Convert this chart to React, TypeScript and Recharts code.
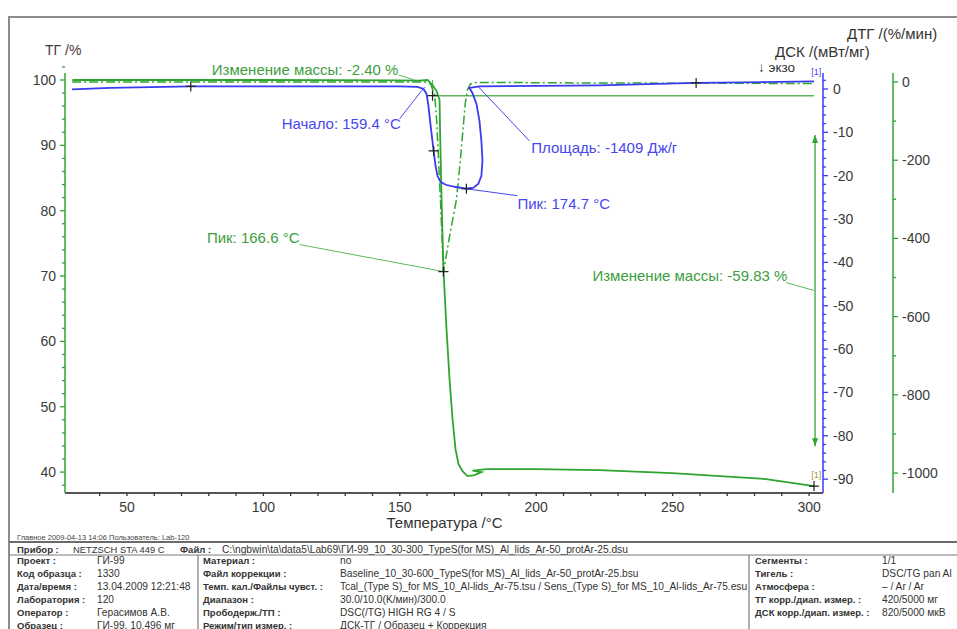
import React from "react";
import { LineChart, Line, XAxis, YAxis, ReferenceLine, ReferenceDot } from "recharts";

const FONT = '"Liberation Sans", Arial, sans-serif';

// ТГ, %
const tgTemp = [30, 100, 150, 157, 160.2, 162.0, 163.5, 164.2, 164.57, 164.75, 165.3, 166.03, 167.13, 168.23, 169.33, 170.42, 171.52, 172.99, 174.82, 177.38, 179.94, 176.65, 181.77, 199.7, 223.13, 249.85, 284.25, 301.82];
const tgMass = [100, 100, 99.95, 99.9, 100, 99.24, 98.3, 97.4, 96.95, 92.37, 81.68, 70.69, 61.83, 54.2, 48.09, 43.51, 41.22, 40.15, 39.39, 39.54, 40.0, 40.23, 40.46, 40.46, 40.31, 39.85, 38.93, 37.86];

// ДСК, мВт/мг
const dscTemp = [29.9, 43.8, 73.4, 113.3, 149.9, 156.5, 158.7, 159.8, 160.5, 161.3, 162.4, 163.1, 163.8, 164.9, 166.8, 170.1, 174.4, 177.0, 178.8, 179.9, 180.3, 179.9, 179.2, 178.1, 176.6, 175.5, 179.2, 223.1, 258.6, 289.0, 301.8];
const dscFlow = [-0.12, 0.23, 0.58, 0.58, 0.58, 0.46, 0, -1.15, -3.91, -8.52, -14.27, -17.73, -20.03, -21.41, -22.1, -22.56, -23.02, -22.79, -21.87, -20.03, -16.57, -11.97, -7.37, -3.45, -0.92, 0.23, 0.58, 0.81, 1.38, 1.61, 1.73];

// ДТГ, %/мин
const dtgTemp = [29.9, 113.3, 159.1, 161.3, 162.8, 163.5, 164.2, 164.9, 165.5, 166.0, 168.2, 170.8, 172.2, 173.3, 174.0, 174.8, 175.9, 177.7, 223.1, 301.8];
const dtgRate = [0, 0, 0, -5, -33, -97, -199, -302, -404, -486, -396, -299, -199, -110, -54, -20, -5, -1, -2.6, -3.8];

const TEMP_LABELS = [50, 100, 150, 200, 250, 300];
const TG_LABELS = [40, 50, 60, 70, 80, 90, 100];
const DSC_LABELS = [0, -10, -20, -30, -40, -50, -60, -70, -80, -90];
const DTG_LABELS = [0, -200, -400, -600, -800, -1000];

const TEMP_TICKS = Array.from({ length: 27 }, (_, i) => 40 + i * 10);
const TG_TICKS = Array.from({ length: 33 }, (_, i) => 38 + i * 2);
const DSC_TICKS = Array.from({ length: 47 }, (_, i) => 2 - i * 2);
const DTG_TICKS = Array.from({ length: 11 }, (_, i) => -i * 100);

const tgData = tgTemp.map((t, i) => ({ t, v: tgMass[i] }));
const dscData = dscTemp.map((t, i) => ({ t, v: dscFlow[i] }));
const dtgData = dtgTemp.map((t, i) => ({ t, v: dtgRate[i] }));

const GREEN = "#2fa52f";
const GREEN_L = "#5cb85c";
const GREEN_TXT = "#3d9e3d";
const BLUE = "#3a3af2";
const BLUE_TXT = "#4747ee";
const NUM = "#3a3a3a";
const TICK_FS = 14;

const LeftTick = (p: any) => {
  const major = TG_LABELS.includes(p.payload.value);
  return (
    <g>
      <line x1={p.x - (major ? 5 : 3)} x2={p.x} y1={p.y} y2={p.y} stroke={GREEN} strokeWidth={1.3} />
      {major && (
        <text x={p.x - 9} y={p.y} textAnchor="end" dominantBaseline="central" fontSize={TICK_FS} fill={NUM} fontFamily={FONT}>
          {p.payload.value}
        </text>
      )}
    </g>
  );
};

const rightTick = (labels: number[], color: string, gap: number) => (p: any) => {
  const major = labels.includes(p.payload.value);
  return (
    <g>
      <line x1={p.x} x2={p.x + (major ? 5 : 3)} y1={p.y} y2={p.y} stroke={color} strokeWidth={1.3} />
      {major && (
        <text x={p.x + gap} y={p.y} textAnchor="start" dominantBaseline="central" fontSize={TICK_FS} fill={NUM} fontFamily={FONT}>
          {p.payload.value}
        </text>
      )}
    </g>
  );
};

const BottomTick = (p: any) => {
  const major = TEMP_LABELS.includes(p.payload.value);
  return (
    <g>
      <line x1={p.x} x2={p.x} y1={p.y} y2={p.y + 3} stroke="#333" strokeWidth={1.3} />
      {major && (
        <text x={p.x} y={p.y + 14} textAnchor="middle" dominantBaseline="central" fontSize={TICK_FS} fill={NUM} fontFamily={FONT}>
          {p.payload.value}
        </text>
      )}
    </g>
  );
};

const cross = (p: any) => (
  <path d={`M${p.cx - 5},${p.cy}h10M${p.cx},${p.cy - 5}v10`} stroke="#222" strokeWidth={1.2} fill="none" />
);

const label = (txt: string, color: string, size = 15) => (p: any) => (
  <text x={p.cx} y={p.cy} fill={color} fontSize={size} fontFamily={FONT} dominantBaseline="central">
    {txt}
  </text>
);

const arrowUp = (p: any) => <path d={`M${p.cx - 3},${p.cy + 8}L${p.cx},${p.cy}L${p.cx + 3},${p.cy + 8}Z`} fill={GREEN} />;
const arrowDown = (p: any) => <path d={`M${p.cx - 3},${p.cy - 8}L${p.cx},${p.cy}L${p.cx + 3},${p.cy - 8}Z`} fill={GREEN} />;

const seg = (id: string, x1: number, y1: number, x2: number, y2: number, color: string, w = 1) => (
  <ReferenceLine
    yAxisId={id}
    segment={[{ x: x1, y: y1 }, { x: x2, y: y2 }]}
    stroke={color}
    strokeWidth={w}
    ifOverflow="visible"
  />
);

const dot = (id: string, x: number, y: number, shape: any) => (
  <ReferenceDot yAxisId={id} x={x} y={y} r={0} shape={shape} ifOverflow="visible" />
);

const col1 = [
  ["Проект :", "ГИ-99"],
  ["Код образца :", "1330"],
  ["Дата/время :", "13.04.2009 12:21:48"],
  ["Лаборатория :", "120"],
  ["Оператор :", "Герасимов А.В."],
  ["Образец :", "ГИ-99, 10.496 мг"],
];
const col2 = [
  ["Материал :", "no"],
  ["Файл коррекции :", "Baseline_10_30-600_TypeS(for MS)_Al_lids_Ar-50_protAr-25.bsu"],
  ["Темп. кал./Файлы чувст. :", "Tcal_(Type S)_for MS_10_Al-lids_Ar-75.tsu / Sens_(Type S)_for MS_10_Al-lids_Ar-75.esu"],
  ["Диапазон :", "30.0/10.0(K/мин)/300.0"],
  ["Прободерж./ТП :", "DSC(/TG) HIGH RG 4 / S"],
  ["Режим/тип измер. :", "ДСК-ТГ / Образец + Коррекция"],
];
const col3 = [
  ["Сегменты :", "1/1"],
  ["Тигель :", "DSC/TG pan Al"],
  ["Атмосфера :", "– / Ar / Ar"],
  ["ТГ корр./диап. измер. :", "420/5000 мг"],
  ["ДСК корр./диап. измер. :", "820/5000 мкВ"],
];
const ROW_Y = [560, 573, 586, 599, 612, 625];

export default function App() {
  const fs = 10.2;
  const fsb = 9.5;
  const cols: [string[][], number, number][] = [
    [col1, 17, 97],
    [col2, 203, 340],
    [col3, 755, 882],
  ];
  return (
    <div style={{ position: "absolute", left: 0, top: 0, width: 957, height: 629, overflow: "hidden", background: "#fff", fontFamily: FONT }}>
      <LineChart width={957} height={540} margin={{ top: 73, right: 4, bottom: 17, left: 10 }}>
        <XAxis
          type="number"
          dataKey="t"
          domain={[27.3, 305.1]}
          allowDataOverflow
          ticks={TEMP_TICKS}
          interval={0}
          tick={BottomTick}
          tickSize={0}
          tickMargin={0}
          height={30}
          axisLine={{ stroke: "#555", strokeWidth: 2 }}
        />
        <YAxis
          yAxisId="tg"
          orientation="left"
          type="number"
          width={55}
          domain={[36.8, 101.07]}
          allowDataOverflow
          ticks={TG_TICKS}
          interval={0}
          tick={LeftTick}
          tickSize={0}
          tickMargin={0}
          axisLine={{ stroke: GREEN, strokeWidth: 1.5 }}
        />
        <YAxis
          yAxisId="dsc"
          orientation="right"
          type="number"
          width={70}
          domain={[-93.2, 3.68]}
          allowDataOverflow
          ticks={DSC_TICKS}
          interval={0}
          tick={rightTick(DSC_LABELS, BLUE, 10)}
          tickSize={0}
          tickMargin={0}
          axisLine={{ stroke: BLUE, strokeWidth: 1.5 }}
        />
        <YAxis
          yAxisId="dtg"
          orientation="right"
          type="number"
          width={60}
          domain={[-1051, 23]}
          allowDataOverflow
          ticks={DTG_TICKS}
          interval={0}
          tick={rightTick(DTG_LABELS, GREEN, 9)}
          tickSize={0}
          tickMargin={0}
          axisLine={{ stroke: GREEN, strokeWidth: 1.5 }}
        />

        {seg("tg", 162.0, 97.6, 301.8, 97.6, GREEN_L, 1.4)}
        {seg("tg", 162.0, 100, 162.0, 97.6, GREEN_L, 1.2)}

        <Line yAxisId="dtg" data={dtgData} dataKey="v" type="linear" stroke={GREEN} strokeWidth={1.5} strokeDasharray="9 3 2 3" dot={false} isAnimationActive={false} />
        <Line yAxisId="tg" data={tgData} dataKey="v" type="linear" stroke={GREEN} strokeWidth={1.8} dot={false} isAnimationActive={false} />
        <Line yAxisId="dsc" data={dscData} dataKey="v" type="linear" stroke={BLUE} strokeWidth={1.8} dot={false} isAnimationActive={false} />

        {seg("tg", 149.6, 100.76, 155.4, 100, GREEN_L)}
        {seg("dsc", 149.9, -6.9, 159.1, 0.46, BLUE_TXT)}
        {seg("dsc", 197.5, -11.97, 178.5, 0.69, BLUE_TXT)}
        {seg("dsc", 193.1, -24.63, 174.4, -23.02, BLUE_TXT)}
        {seg("tg", 113.3, 74.81, 166.0, 70.69, GREEN_L)}
        {seg("tg", 291.6, 69.0, 301.8, 67.79, GREEN_L)}
        {seg("tg", 302.2, 91.6, 302.2, 43.97, GREEN_L, 1.6)}
        {dot("tg", 302.2, 91.6, arrowUp)}
        {dot("tg", 302.2, 43.97, arrowDown)}

        {dot("tg", 81.1, 101.68, label("Изменение массы: -2.40 %", GREEN_TXT))}
        {dot("dsc", 106.7, -8.06, label("Начало: 159.4 °C", BLUE_TXT))}
        {dot("dsc", 198.2, -13.58, label("Площадь: -1409 Дж/г", BLUE_TXT))}
        {dot("dsc", 193.1, -26.47, label("Пик: 174.7 °C", BLUE_TXT))}
        {dot("tg", 79.3, 75.88, label("Пик: 166.6 °C", GREEN_TXT))}
        {dot("tg", 220.6, 70.08, label("Изменение массы: -59.83 %", GREEN_TXT))}
        {dot("dsc", 300.8, 3.9, label("[1]", BLUE_TXT, 9))}
        {dot("tg", 300.8, 39.6, label("[1]", "#9a9a3c", 9))}

        {dot("dsc", 73.4, 0.58, cross)}
        {dot("dsc", 162.4, -14.27, cross)}
        {dot("dsc", 174.4, -23.02, cross)}
        {dot("dsc", 258.6, 1.38, cross)}
        {dot("tg", 162.0, 97.6, cross)}
        {dot("tg", 166.0, 70.69, cross)}
        {dot("tg", 301.8, 37.86, cross)}
      </LineChart>

      <svg width={957} height={629} style={{ position: "absolute", left: 0, top: 0, pointerEvents: "none" }} fontFamily={FONT}>
        <line x1={9} x2={957} y1={17} y2={17} stroke="#8c8c8c" strokeWidth={2} />
        <line x1={9} x2={9} y1={16} y2={629} stroke="#8c8c8c" strokeWidth={2} />

        <text x={45} y={50} fontSize={14} fill="#4a3838" dominantBaseline="central">ТГ /%</text>
        <text x={847} y={33} fontSize={15} fill="#333" dominantBaseline="central">ДТГ /(%/мин)</text>
        <text x={775} y={51} fontSize={15} fill="#333" dominantBaseline="central">ДСК /(мВт/мг)</text>
        <text x={758} y={67} fontSize={13.5} fill="#333" dominantBaseline="central">↓ экзо</text>
        <text x={444.5} y={522} fontSize={15} fill="#333" textAnchor="middle" dominantBaseline="central">Температура /°C</text>

        <text x={17} y={537} fontSize={7.5} fill="#444" dominantBaseline="central">
          Главное{"    "}2009-04-13 14:06{"    "}Пользователь: Lab-120
        </text>
        <line x1={9} x2={957} y1={542} y2={542} stroke="#6a6a6a" strokeWidth={2} />
        <text x={17} y={549} fontSize={fsb} fill="#333" fontWeight="bold" dominantBaseline="central">Прибор :</text>
        <text x={73} y={549} fontSize={9.4} fill="#333" dominantBaseline="central">NETZSCH STA 449 C</text>
        <text x={180} y={549} fontSize={fsb} fill="#333" fontWeight="bold" dominantBaseline="central">Файл :</text>
        <text x={222} y={549} fontSize={fs} fill="#333" dominantBaseline="central">
          C:\ngbwin\ta\data5\Lab69\ГИ-99_10_30-300_TypeS(for MS)_Al_lids_Ar-50_protAr-25.dsu
        </text>
        <line x1={9} x2={957} y1={555} y2={555} stroke="#7a7a7a" strokeWidth={1.2} />
        <line x1={198} x2={198} y1={555} y2={629} stroke="#7a7a7a" strokeWidth={1.2} />
        <line x1={749} x2={749} y1={555} y2={629} stroke="#7a7a7a" strokeWidth={1.2} />

        {cols.map(([rows, lx, vx], ci) =>
          rows.map((r, i) => (
            <g key={`${ci}-${i}`}>
              <text x={lx} y={ROW_Y[i]} fontSize={fsb} fill="#333" fontWeight="bold" dominantBaseline="central">{r[0]}</text>
              <text x={vx} y={ROW_Y[i]} fontSize={fs} fill="#333" dominantBaseline="central">{r[1]}</text>
            </g>
          ))
        )}
      </svg>
    </div>
  );
}
